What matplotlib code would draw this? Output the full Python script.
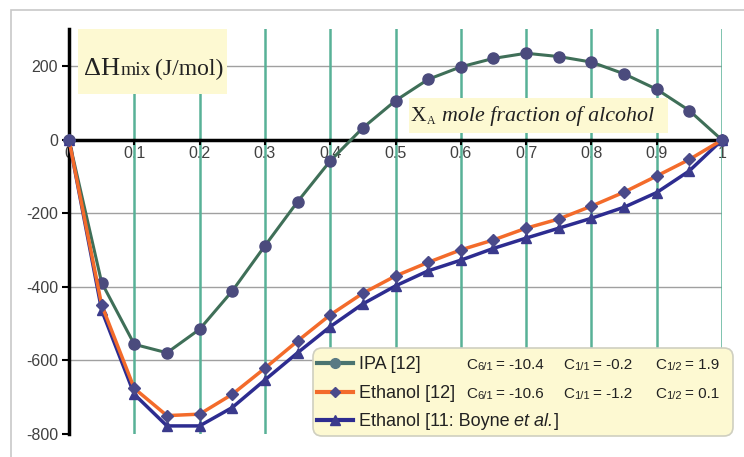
import matplotlib
matplotlib.use("Agg")
import matplotlib.pyplot as plt
from matplotlib.patches import FancyBboxPatch, Rectangle
from matplotlib.lines import Line2D
from matplotlib.transforms import IdentityTransform

# data
x_frac = [0, 0.05, 0.1, 0.15, 0.2, 0.25, 0.3, 0.35, 0.4, 0.45, 0.5,
          0.55, 0.6, 0.65, 0.7, 0.75, 0.8, 0.85, 0.9, 0.95, 1.0]
ipa = [0, -388, -556, -579, -515, -411, -288, -168, -57, 33, 107,
       165, 199, 222, 236, 227, 212, 180, 138, 80, 0]
ethanol_12 = [0, -449, -676, -750, -746, -692, -621, -547, -476, -417, -370,
              -333, -299, -272, -240, -215, -180, -142, -98, -53, 0]
ethanol_boyne = [0, -463, -692, -778, -778, -728, -653, -579, -508, -446, -397,
                 -356, -327, -295, -267, -240, -213, -183, -143, -84, 0]

y_ticks = [200, 0, -200, -400, -600, -800]
x_ticks = [0, 0.1, 0.2, 0.3, 0.4, 0.5, 0.6, 0.7, 0.8, 0.9, 1.0]
x_tick_labels = ["0", "0.1", "0.2", "0.3", "0.4", "0.5", "0.6", "0.7", "0.8", "0.9", "1"]

coef_rows = [["-10.4", "-0.2", "1.9"], ["-10.6", "-1.2", "0.1"]]

W, H = 744, 457
YELLOW = "#fdf9d2"
TEAL = "#58b197"
GREY_TXT = "#404040"

fig = plt.figure(figsize=(W / 100, H / 100), dpi=100)
ident = IdentityTransform()

# light outer frame (cropped on the right and bottom)
fig.patches.append(Rectangle((11, -10), 800, H - 10 + 10, transform=ident,
                             fill=False, edgecolor="#c8c8c8", lw=1.2))

ax = fig.add_axes([69 / W, 23 / H, (722 - 69) / W, (434 - 29) / H])
ax.set_xlim(0, 1)
ax.set_ylim(-800, 302)
ax.patch.set_alpha(0)
for s in ["top", "right", "bottom"]:
    ax.spines[s].set_visible(False)
ax.spines["left"].set_linewidth(2.5)
ax.spines["left"].set_zorder(6)

# horizontal grey gridlines
for v in [200, -200, -400, -600]:
    ax.axhline(v, color="#a0a0a0", lw=1, zorder=1)
# vertical green lines
for v in x_ticks[1:]:
    ax.axvline(v, color=TEAL, lw=1.8, zorder=3)

# x axis drawn through zero
ax.axhline(0, color="black", lw=2.5, zorder=4)
for v in x_ticks:
    ax.plot([v, v], [0, -10], color="black", lw=1.5, zorder=4, clip_on=False)

ax.set_yticks(y_ticks)
ax.set_yticklabels([str(v) for v in y_ticks])
ax.tick_params(axis="y", direction="out", length=5, width=1.5,
               labelsize=11.5, labelcolor=GREY_TXT, pad=3)
ax.set_xticks([])
for v, lab in zip(x_ticks, x_tick_labels):
    ax.text(v, -38, lab, ha="center", va="center", fontsize=11.5,
            color=GREY_TXT, zorder=2, family="Liberation Sans")
for lab in ax.get_yticklabels():
    lab.set_family("Liberation Sans")

ax.plot(x_frac, ipa, color="#3f6f58", lw=2.2, marker="o", ms=8,
        mfc="#4b4b7d", mec="#4b4b7d", zorder=7, clip_on=False)
ax.plot(x_frac, ethanol_12, color="#f36b2b", lw=2.5, marker="D", ms=6,
        mfc="#4a4a8a", mec="#4a4a8a", zorder=8, clip_on=False)
ax.plot(x_frac, ethanol_boyne, color="#2d2c90", lw=2.5, marker="^", ms=7,
        mfc="#3a3a8c", mec="#3a3a8c", zorder=7.5, clip_on=False)

renderer = fig.canvas.get_renderer()


def runs(x, y, parts):
    # lay text pieces one after the other along a baseline (pixel coords)
    for s, kw, gap in parts:
        t = fig.text(x, H - y, s, transform=ident, ha="left", va="baseline",
                     zorder=12, **kw)
        x += t.get_window_extent(renderer).width + gap
    return x


# label boxes
fig.patches.append(Rectangle((78, H - 94), 149, 65, transform=ident,
                             facecolor=YELLOW, edgecolor="none", zorder=10))
serif = dict(family="Liberation Serif", color="#222222")
runs(84, 75, [("ΔH", dict(fontsize=19, **serif), 0.5),
              ("mix", dict(fontsize=14, **serif), 4),
              ("(J/mol)", dict(fontsize=17, **serif), 0)])

fig.patches.append(Rectangle((409, H - 133), 259, 35, transform=ident,
                             facecolor=YELLOW, edgecolor="none", zorder=10))
x_end = runs(411, 121, [("X", dict(fontsize=15.5, **serif), 0)])
x_end = runs(x_end + 0.5, 124, [("A", dict(fontsize=8.5, **serif), 7)])
runs(x_end, 121, [("mole fraction of alcohol",
                   dict(fontsize=15.8, style="italic", **serif), 0)])

# legend
fig.patches.append(FancyBboxPatch((313, H - 436), 420, 88, transform=ident,
                                  boxstyle="round,pad=0,rounding_size=9",
                                  facecolor=YELLOW, edgecolor="#cfcfc0",
                                  lw=1.2, zorder=10))
handles = [("#4a7470", "#5a7a84", "o", 7), ("#f36b2b", "#4a4a8a", "D", 5.5),
           ("#2d2c90", "#3a3a8c", "^", 6.5)]
rows_y = [363, 392, 420]
names = ["IPA [12]", "Ethanol [12]"]
sans = dict(family="Liberation Sans", color="#222222")
for i, ((lc, mc, mk, ms), yy) in enumerate(zip(handles, rows_y)):
    fig.lines.append(Line2D([317, 353], [H - yy, H - yy], transform=ident,
                            color=lc, lw=3, zorder=11))
    fig.lines.append(Line2D([335], [H - yy], transform=ident, marker=mk,
                            ms=ms, mfc=mc, mec=mc, zorder=11))
    base = yy + 6
    if i < 2:
        runs(359, base, [(names[i], dict(fontsize=13, **sans), 0)])
        for xs, sub, val in zip([466, 563, 655], ["6/1", "1/1", "1/2"],
                                coef_rows[i]):
            xe = runs(xs, base, [("C", dict(fontsize=11, **sans), 0.3)])
            xe = runs(xe, base + 1, [(sub, dict(fontsize=8, **sans), 3)])
            runs(xe, base, [("= " + val, dict(fontsize=11, **sans), 0)])
    else:
        runs(359, base, [("Ethanol [11: Boyne", dict(fontsize=13, **sans), 4.5),
                         ("et al.", dict(fontsize=13, style="italic", **sans), 0.5),
                         ("]", dict(fontsize=13, **sans), 0)])

fig.savefig("out.png", dpi=100)
